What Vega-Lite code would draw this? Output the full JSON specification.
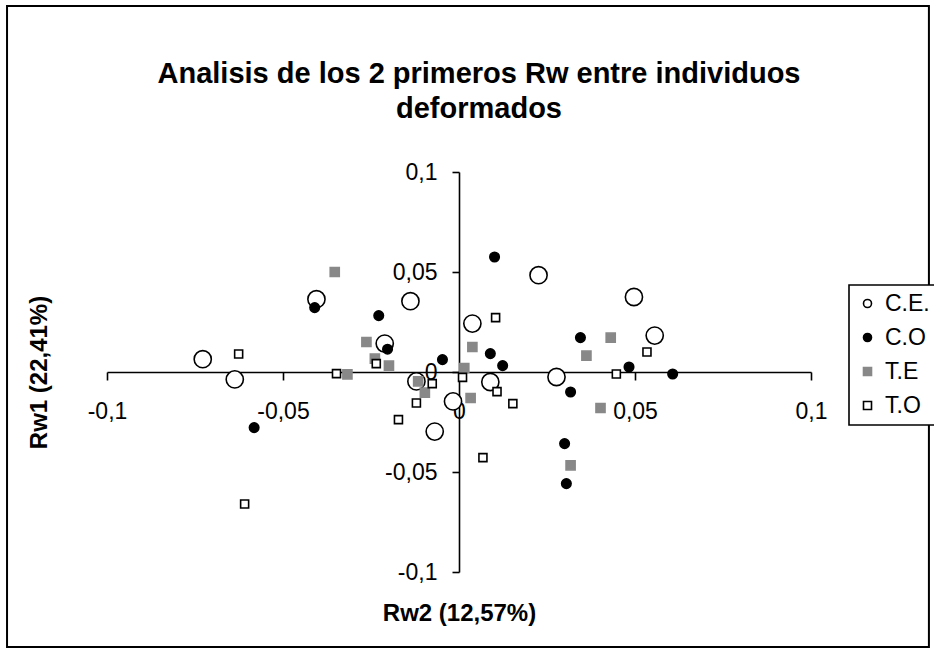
{
  "$schema": "https://vega.github.io/schema/vega-lite/v6.json",
  "width": 704,
  "height": 400,
  "autosize": "none",
  "padding": {"left": 107, "top": 172, "right": 123, "bottom": 81},
  "background": "white",
  "title": {
    "text": ["Analisis de los 2 primeros Rw entre individuos", "deformados"],
    "fontSize": 29,
    "fontWeight": "bold",
    "font": "Liberation Sans",
    "color": "black",
    "anchor": "middle",
    "dx": 20,
    "dy": 171,
    "lineHeight": 35,
    "offset": 52
  },
  "datasets": {
    "pts": [
      {"serie": "C.E.", "rw2": -0.0728, "rw1": 0.0064},
      {"serie": "C.E.", "rw2": -0.0637, "rw1": -0.0037},
      {"serie": "C.E.", "rw2": -0.0405, "rw1": 0.0364},
      {"serie": "C.E.", "rw2": -0.0138, "rw1": 0.0354},
      {"serie": "C.E.", "rw2": -0.0211, "rw1": 0.0142},
      {"serie": "C.E.", "rw2": -0.0121, "rw1": -0.0047},
      {"serie": "C.E.", "rw2": -0.0017, "rw1": -0.0147},
      {"serie": "C.E.", "rw2": -0.0069, "rw1": -0.0298},
      {"serie": "C.E.", "rw2": 0.0038, "rw1": 0.0242},
      {"serie": "C.E.", "rw2": 0.0089, "rw1": -0.005},
      {"serie": "C.E.", "rw2": 0.0226, "rw1": 0.0484},
      {"serie": "C.E.", "rw2": 0.0277, "rw1": -0.0025},
      {"serie": "C.E.", "rw2": 0.0497, "rw1": 0.0375},
      {"serie": "C.E.", "rw2": 0.0556, "rw1": 0.0182},
      {"serie": "C.O", "rw2": -0.0582, "rw1": -0.0278},
      {"serie": "C.O", "rw2": -0.041, "rw1": 0.0322},
      {"serie": "C.O", "rw2": -0.0228, "rw1": 0.0282},
      {"serie": "C.O", "rw2": -0.0203, "rw1": 0.0114},
      {"serie": "C.O", "rw2": -0.0047, "rw1": 0.0062},
      {"serie": "C.O", "rw2": 0.0101, "rw1": 0.0575},
      {"serie": "C.O", "rw2": 0.0089, "rw1": 0.0092},
      {"serie": "C.O", "rw2": 0.0124, "rw1": 0.0032},
      {"serie": "C.O", "rw2": 0.0345, "rw1": 0.0172},
      {"serie": "C.O", "rw2": 0.0317, "rw1": -0.01},
      {"serie": "C.O", "rw2": 0.03, "rw1": -0.0358},
      {"serie": "C.O", "rw2": 0.0305, "rw1": -0.0558},
      {"serie": "C.O", "rw2": 0.0483, "rw1": 0.0025},
      {"serie": "C.O", "rw2": 0.0607, "rw1": -0.001},
      {"serie": "T.E", "rw2": -0.0353, "rw1": 0.05},
      {"serie": "T.E", "rw2": -0.0263, "rw1": 0.015},
      {"serie": "T.E", "rw2": -0.0239, "rw1": 0.0067},
      {"serie": "T.E", "rw2": -0.0199, "rw1": 0.0032},
      {"serie": "T.E", "rw2": -0.0317, "rw1": -0.0012},
      {"serie": "T.E", "rw2": -0.0116, "rw1": -0.0047},
      {"serie": "T.E", "rw2": -0.0097, "rw1": -0.0103},
      {"serie": "T.E", "rw2": 0.0015, "rw1": 0.002},
      {"serie": "T.E", "rw2": 0.0038, "rw1": 0.0125},
      {"serie": "T.E", "rw2": 0.0033, "rw1": -0.013},
      {"serie": "T.E", "rw2": 0.0362, "rw1": 0.0082},
      {"serie": "T.E", "rw2": 0.0431, "rw1": 0.0172},
      {"serie": "T.E", "rw2": 0.0402, "rw1": -0.018},
      {"serie": "T.E", "rw2": 0.0317, "rw1": -0.0467},
      {"serie": "T.O", "rw2": -0.0626, "rw1": 0.009},
      {"serie": "T.O", "rw2": -0.0348, "rw1": -0.0008},
      {"serie": "T.O", "rw2": -0.0235, "rw1": 0.0042},
      {"serie": "T.O", "rw2": -0.0076, "rw1": -0.0058},
      {"serie": "T.O", "rw2": -0.0121, "rw1": -0.0155},
      {"serie": "T.O", "rw2": -0.0172, "rw1": -0.0238},
      {"serie": "T.O", "rw2": 0.001, "rw1": -0.0027},
      {"serie": "T.O", "rw2": 0.0104, "rw1": 0.0272},
      {"serie": "T.O", "rw2": 0.0108, "rw1": -0.0098},
      {"serie": "T.O", "rw2": 0.0153, "rw1": -0.0158},
      {"serie": "T.O", "rw2": 0.0447, "rw1": -0.001},
      {"serie": "T.O", "rw2": 0.0534, "rw1": 0.01},
      {"serie": "T.O", "rw2": 0.0068, "rw1": -0.0428},
      {"serie": "T.O", "rw2": -0.0609, "rw1": -0.066}
    ]
  },
  "layer": [
    {
      "data": {"values": [{}]},
      "mark": {"type": "rect", "fill": null, "stroke": "black", "strokeWidth": 2, "clip": false},
      "encoding": {
        "x": {"datum": -0.1284, "type": "quantitative", "scale": {"domain": [-0.1, 0.1], "nice": false, "zero": false}},
        "x2": {"datum": 0.1335},
        "y": {"datum": 0.183, "type": "quantitative", "scale": {"domain": [-0.1, 0.1], "nice": false, "zero": false}},
        "y2": {"datum": -0.1375}
      }
    },
    {
      "data": {"name": "pts"},
      "encoding": {
        "x": {
          "field": "rw2", "type": "quantitative",
          "scale": {"domain": [-0.1, 0.1], "nice": false, "zero": false},
          "axis": {
            "orient": "bottom",
            "offset": -200,
            "values": [-0.1, -0.05, 0, 0.05, 0.1],
            "labelExpr": "replace(toString(datum.value), '.', ',')",
            "labelFlush": false,
            "labelOverlap": false,
            "labelFontSize": 23,
            "labelColor": "black",
            "labelPadding": 20,
            "tickSize": 8,
            "tickWidth": 1.6,
            "tickColor": "black",
            "domainColor": "black",
            "domainWidth": 1.6,
            "grid": false,
            "title": "Rw2 (12,57%)",
            "titleFontSize": 24,
            "titleFontWeight": "bold",
            "titleColor": "black",
            "titleBaseline": "alphabetic",
            "titleY": 248,
            "titleX": 352
          }
        },
        "y": {
          "field": "rw1", "type": "quantitative",
          "scale": {"domain": [-0.1, 0.1], "nice": false, "zero": false},
          "axis": {
            "orient": "left",
            "offset": -352,
            "values": [-0.1, -0.05, 0, 0.05, 0.1],
            "labelExpr": "replace(toString(datum.value), '.', ',')",
            "labelFlush": false,
            "labelOverlap": false,
            "labelFontSize": 23,
            "labelColor": "black",
            "labelPadding": 15,
            "tickSize": 7,
            "tickWidth": 1.6,
            "tickColor": "black",
            "domainColor": "black",
            "domainWidth": 1.6,
            "grid": false,
            "title": "Rw1 (22,41%)",
            "titleFontSize": 24,
            "titleFontWeight": "bold",
            "titleColor": "black",
            "titleAngle": -90,
            "titleBaseline": "alphabetic",
            "titleAlign": "center",
            "titleX": -413,
            "titleY": 200
          }
        },
        "shape": {
          "field": "serie", "type": "nominal",
          "scale": {"domain": ["C.E.", "C.O", "T.E", "T.O"], "range": ["circle", "circle", "square", "square"]},
          "legend": {"title": null, "orient": "none", "legendX": 742, "legendY": 113}
        },
        "fill": {
          "field": "serie", "type": "nominal",
          "scale": {"domain": ["C.E.", "C.O", "T.E", "T.O"], "range": ["white", "black", "#888888", "white"]},
          "legend": {"title": null, "orient": "none", "legendX": 742, "legendY": 113}
        },
        "stroke": {
          "field": "serie", "type": "nominal",
          "scale": {"domain": ["C.E.", "C.O", "T.E", "T.O"], "range": ["black", "black", "#888888", "black"]},
          "legend": {"title": null, "orient": "none", "legendX": 742, "legendY": 113}
        }
      },
      "layer": [
        {
          "transform": [{"filter": "datum.serie === 'C.E.'"}],
          "mark": {"type": "point", "filled": true, "opacity": 1, "strokeWidth": 1.6, "size": 295}
        },
        {
          "transform": [{"filter": "datum.serie === 'C.O'"}],
          "mark": {"type": "point", "filled": true, "opacity": 1, "strokeWidth": 1.6, "size": 90}
        },
        {
          "transform": [{"filter": "datum.serie === 'T.E'"}],
          "mark": {"type": "point", "filled": true, "opacity": 1, "strokeWidth": 1.6, "size": 82}
        },
        {
          "transform": [{"filter": "datum.serie === 'T.O'"}],
          "mark": {"type": "point", "filled": true, "opacity": 1, "strokeWidth": 1.6, "size": 64}
        }
      ]
    }
  ],
  "config": {
    "font": "Liberation Sans",
    "view": {"stroke": null},
    "legend": {
      "padding": 7,
      "strokeColor": "black",
      "strokeWidth": 1.6,
      "fillColor": "white",
      "labelFontSize": 23,
      "labelColor": "black",
      "labelOffset": 6,
      "symbolSize": 64,
      "symbolStrokeWidth": 1.6,
      "rowPadding": 10,
      "symbolOffset": 0
    }
  }
}
